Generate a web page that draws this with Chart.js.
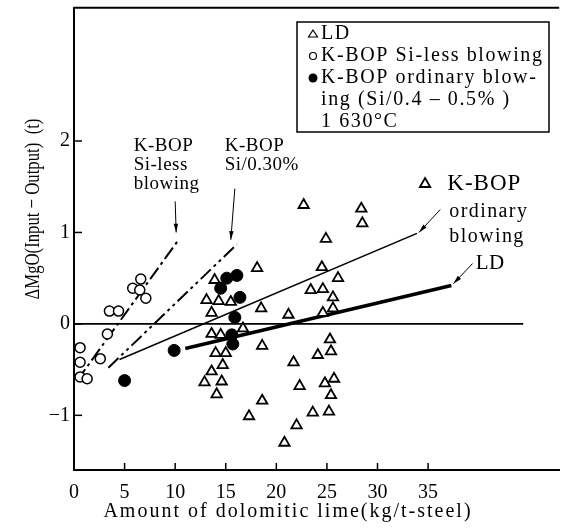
<!DOCTYPE html>
<html>
<head>
<meta charset="utf-8">
<script src="https://cdn.jsdelivr.net/npm/chart.js@4"></script>
<style>html,body{margin:0;padding:0;background:#fff}</style>
</head>
<body>
<canvas id="chart" width="567" height="528"></canvas>
<script>
// axis ticks
const xTicks = [0, 5, 10, 15, 20, 25, 30, 35];
const yTicks = [-1, 0, 1, 2];

// LD (open triangles)
const ldPoints = [
  [13.9, 0.48], [13.1, 0.26], [14.3, 0.25], [15.5, 0.24], [13.6, 0.12], [13.6, -0.11],
  [14.5, -0.12], [16.7, -0.05], [14.0, -0.32], [15.0, -0.32], [14.7, -0.45], [13.6, -0.52],
  [12.9, -0.64], [14.6, -0.63], [14.1, -0.77], [18.1, 0.61], [18.5, 0.17], [21.2, 0.10],
  [18.6, -0.24], [21.7, -0.42], [22.3, -0.68], [18.6, -0.84], [17.3, -1.01], [22.0, -1.11],
  [23.6, -0.97], [20.8, -1.30], [22.7, 1.30], [28.4, 1.26], [28.5, 1.10], [24.9, 0.93],
  [24.5, 0.62], [26.1, 0.50], [23.4, 0.37], [24.6, 0.38], [25.6, 0.29], [24.6, 0.12],
  [25.6, 0.17], [25.3, -0.17], [24.1, -0.34], [25.4, -0.30], [24.8, -0.65], [25.7, -0.60],
  [25.4, -0.78], [25.2, -0.96], [34.7, 1.53]
];
// K-BOP Si-less blowing (open circles)
const siLessPoints = [
  [0.6, -0.26], [0.6, -0.42], [0.6, -0.58], [1.3, -0.60], [2.6, -0.38], [3.3, -0.11],
  [3.5, 0.14], [4.4, 0.14], [5.8, 0.39], [6.6, 0.49], [6.5, 0.37], [7.1, 0.28]
];
// K-BOP ordinary blowing (filled circles)
const ordinaryPoints = [
  [5.0, -0.62], [9.9, -0.29], [14.5, 0.39], [15.1, 0.50], [16.1, 0.53], [16.4, 0.29],
  [15.9, 0.07], [15.6, -0.12], [15.7, -0.22]
];

// regression lines (end points)
const lineSiLess = [[0.3, -0.62], [10.4, 0.93]];
const lineSi030 = [[3.4, -0.48], [16.1, 0.87]];
const lineOrdinary = [[4.5, -0.39], [33.9, 0.99]];
const lineLD = [[11.0, -0.27], [37.3, 0.42]];
const zeroLine = [[0, 0], [44.4, 0]];

// annotation texts: [text, x, y, size, spacing]
const notes = [
  ['K-BOP', 5.9, 1.95, 19, 0.5], ['Si-less', 5.9, 1.74, 19, 0.5], ['blowing', 5.9, 1.53, 19, 0.5],
  ['K-BOP', 14.9, 1.95, 19, 0.5], ['Si/0.30%', 14.9, 1.74, 19, 0.5],
  ['K-BOP', 36.9, 1.53, 23, 1], ['ordinary', 37.1, 1.23, 20, 1.4], ['blowing', 37.1, 0.95, 20, 1.4],
  ['LD', 39.7, 0.66, 21, 0.5]
];
// arrows: [fromX, fromY, toX, toY]
const arrows = [
  [10.0, 1.34, 10.1, 1.00],
  [15.9, 1.48, 15.5, 0.92],
  [36.2, 1.25, 34.1, 1.00],
  [39.4, 0.66, 37.5, 0.44]
];

const legendLines = [
  ['tri', 'LD'],
  ['open', 'K-BOP Si-less blowing'],
  ['fill', 'K-BOP ordinary blow-'],
  ['', 'ing (Si/0.4 \u2013 0.5% )'],
  ['', '1 630\u00b0C']
];

const toXY = arr => arr.map(p => ({x: p[0], y: p[1]}));
const serif = '"Liberation Serif", "DejaVu Serif", serif';

const lineSet = (pts, width, dash) => ({
  type: 'line', data: toXY(pts), borderColor: '#000', borderWidth: width,
  borderDash: dash, pointRadius: 0, fill: false, showLine: true
});

const extras = {
  id: 'extras',
  afterDraw(chart) {
    const ctx = chart.ctx;
    const xs = chart.scales.x, ys = chart.scales.y;
    const area = chart.chartArea;
    ctx.save();
    ctx.strokeStyle = '#000';
    ctx.fillStyle = '#000';

    // top frame
    ctx.lineWidth = 2;
    ctx.beginPath();
    ctx.moveTo(area.left, area.top);
    ctx.lineTo(area.right, area.top);
    ctx.stroke();

    // inward ticks
    ctx.lineWidth = 1.5;
    xTicks.forEach(v => {
      const px = xs.getPixelForValue(v);
      ctx.beginPath();
      ctx.moveTo(px, area.bottom);
      ctx.lineTo(px, area.bottom - 7);
      ctx.stroke();
    });
    yTicks.forEach(v => {
      const py = ys.getPixelForValue(v);
      ctx.beginPath();
      ctx.moveTo(area.left, py);
      ctx.lineTo(area.left + 8, py);
      ctx.stroke();
    });

    // annotations
    ctx.textAlign = 'left';
    ctx.textBaseline = 'middle';
    notes.forEach(([t, x, y, s, sp]) => {
      ctx.font = s + 'px ' + serif;
      ctx.letterSpacing = sp + 'px';
      ctx.fillText(t, xs.getPixelForValue(x), ys.getPixelForValue(y));
    });
    ctx.letterSpacing = '0px';
    ctx.lineWidth = 1;
    arrows.forEach(([x1, y1, x2, y2]) => {
      const a = xs.getPixelForValue(x1), b = ys.getPixelForValue(y1);
      const c = xs.getPixelForValue(x2), d = ys.getPixelForValue(y2);
      ctx.beginPath();
      ctx.moveTo(a, b);
      ctx.lineTo(c, d);
      ctx.stroke();
      const ang = Math.atan2(d - b, c - a);
      ctx.beginPath();
      ctx.moveTo(c, d);
      ctx.lineTo(c - 9 * Math.cos(ang - 0.25), d - 9 * Math.sin(ang - 0.25));
      ctx.lineTo(c - 9 * Math.cos(ang + 0.25), d - 9 * Math.sin(ang + 0.25));
      ctx.closePath();
      ctx.fill();
    });

    // legend box
    const bx = 297, by = 22, bw = 252, bh = 110;
    ctx.lineWidth = 1.5;
    ctx.strokeRect(bx, by, bw, bh);
    ctx.font = '20px ' + serif;
    ctx.letterSpacing = '1.6px';
    legendLines.forEach(([m, t], i) => {
      const cy = by + 12 + i * 22;
      ctx.fillText(t, 321, cy);
      ctx.lineWidth = 1.2;
      if (m === 'tri') {
        ctx.beginPath();
        ctx.moveTo(313, cy - 4);
        ctx.lineTo(317.5, cy + 3);
        ctx.lineTo(308.5, cy + 3);
        ctx.closePath();
        ctx.stroke();
      } else if (m === 'open') {
        ctx.beginPath();
        ctx.arc(313, cy, 3.5, 0, Math.PI * 2);
        ctx.stroke();
      } else if (m === 'fill') {
        ctx.beginPath();
        ctx.arc(313, cy, 4.5, 0, Math.PI * 2);
        ctx.fill();
      }
    });

    // axis titles
    ctx.font = '20px ' + serif;
    ctx.textAlign = 'center';
    ctx.letterSpacing = '2px';
    ctx.fillText('Amount of dolomitic lime(kg/t-steel)', 288, 512);
    ctx.letterSpacing = '0px';
    ctx.translate(33, 209);
    ctx.rotate(-Math.PI / 2);
    ctx.scale(0.88, 1.15);
    ctx.font = '19px ' + serif;
    ctx.fillText('\u0394MgO(Input \u2212 Output)  (t)', 0, 0);
    ctx.restore();
  }
};

new Chart(document.getElementById('chart'), {
  type: 'scatter',
  data: {
    datasets: [
      { data: toXY(ldPoints), pointStyle: 'triangle', pointRadius: 6, borderColor: '#000',
        backgroundColor: '#fff', borderWidth: 1.8 },
      { data: toXY(siLessPoints), pointStyle: 'circle', pointRadius: 5, borderColor: '#000',
        backgroundColor: '#fff', borderWidth: 1.5 },
      { data: toXY(ordinaryPoints), pointStyle: 'circle', pointRadius: 6, borderColor: '#000',
        backgroundColor: '#000', borderWidth: 1 },
      lineSet(lineSiLess, 2, [14, 4, 3, 4]),
      lineSet(lineSi030, 2, [14, 4, 3, 4, 3, 4]),
      lineSet(lineOrdinary, 1.6, []),
      lineSet(lineLD, 3.5, []),
      lineSet(zeroLine, 1.6, [])
    ]
  },
  options: {
    responsive: false,
    animation: false,
    devicePixelRatio: 1,
    layout: { padding: { top: 5, right: 0, left: 0, bottom: 0 } },
    plugins: { legend: { display: false }, tooltip: { enabled: false } },
    scales: {
      x: {
        type: 'linear', min: 0, max: 47.96,
        afterBuildTicks: s => { s.ticks = xTicks.map(v => ({ value: v })); },
        afterFit: s => { s.height = 58; s.paddingLeft = 0; s.paddingRight = 0; },
        grid: { display: false, drawTicks: false },
        border: { display: true, color: '#000', width: 2 },
        ticks: { color: '#000', padding: 11, maxRotation: 0, font: { family: serif, size: 20 } }
      },
      y: {
        type: 'linear', min: -1.598, max: 3.457,
        afterBuildTicks: s => { s.ticks = yTicks.map(v => ({ value: v })); },
        afterFit: s => { s.width = 74; s.paddingTop = 0; s.paddingBottom = 0; },
        grid: { display: false, drawTicks: false },
        border: { display: true, color: '#000', width: 2 },
        ticks: { color: '#000', padding: 4, font: { family: serif, size: 20 },
          callback: v => v < 0 ? '\u2212' + Math.abs(v) : String(v) }
      }
    }
  },
  plugins: [extras]
});
</script>
</body>
</html>
